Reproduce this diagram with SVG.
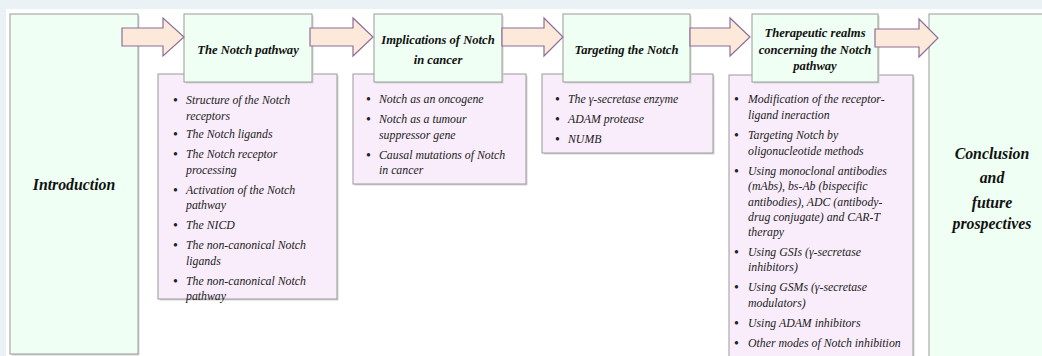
<svg xmlns="http://www.w3.org/2000/svg" width="1042" height="356" viewBox="0 0 1042 356">
<defs>
<style>
.bg{fill:#eaf2f5}
.panel{fill:#ffffff}
.mint{fill:#effff3;stroke:#9a9a9a;stroke-width:1}
.lav{fill:#f9edfb;stroke:#9a9a9a;stroke-width:1}
.shadow{fill:#d4d4d4}
.arrow{fill:#fde9d9;stroke:#8c6e9c;stroke-width:1.2;stroke-linejoin:miter}
.title{font-style:italic;font-weight:bold;font-size:12.6px;fill:#111;text-anchor:middle}
.big{font-style:italic;font-weight:bold;font-size:15.8px;fill:#111;text-anchor:middle}
.item{font-style:italic;font-size:11.8px;fill:#222}
.bul{font-size:14px;fill:#222}
</style>
</defs>
<rect class="bg" x="0" y="0" width="1042" height="356"/>
<rect class="panel" x="6" y="9" width="1036" height="347"/>

<g id="introduction" font-family="Liberation Serif">
<rect class="shadow" x="11.5" y="15.5" width="128" height="340"/>
<rect class="mint" x="10" y="14" width="128" height="340"/>
<text class="big" x="74" y="190">Introduction</text>
</g>

<g id="notch-pathway-list" font-family="Liberation Serif">
<rect class="shadow" x="159.5" y="75.5" width="179" height="225"/>
<rect class="lav" x="158" y="74" width="179" height="225"/>
<text class="bul" x="173" y="105">•</text><text class="item" x="186" y="104">Structure of the Notch</text>
<text class="item" x="186" y="120">receptors</text>
<text class="bul" x="173" y="139">•</text><text class="item" x="186" y="138">The Notch ligands</text>
<text class="bul" x="173" y="159">•</text><text class="item" x="186" y="158">The Notch receptor</text>
<text class="item" x="186" y="174">processing</text>
<text class="bul" x="173" y="195">•</text><text class="item" x="186" y="194">Activation of the Notch</text>
<text class="item" x="186" y="209">pathway</text>
<text class="bul" x="173" y="230">•</text><text class="item" x="186" y="229">The NICD</text>
<text class="bul" x="173" y="250">•</text><text class="item" x="186" y="249">The non-canonical Notch</text>
<text class="item" x="186" y="265">ligands</text>
<text class="bul" x="173" y="286">•</text><text class="item" x="186" y="285">The non-canonical Notch</text>
<text class="item" x="186" y="300">pathway</text>
</g>
<g id="notch-pathway" font-family="Liberation Serif">
<rect class="shadow" x="185.5" y="15.5" width="128" height="68"/>
<rect class="mint" x="184" y="14" width="128" height="68"/>
<text class="title" x="248" y="54">The Notch pathway</text>
</g>

<g id="implications-list" font-family="Liberation Serif">
<rect class="shadow" x="354.5" y="75.5" width="173" height="110"/>
<rect class="lav" x="353" y="74" width="173" height="110"/>
<text class="bul" x="366" y="104">•</text><text class="item" x="379" y="103">Notch as an oncogene</text>
<text class="bul" x="366" y="124">•</text><text class="item" x="379" y="123">Notch as a tumour</text>
<text class="item" x="379" y="139">suppressor gene</text>
<text class="bul" x="366" y="160">•</text><text class="item" x="379" y="159">Causal mutations of Notch</text>
<text class="item" x="379" y="174">in cancer</text>
</g>
<g id="implications" font-family="Liberation Serif">
<rect class="shadow" x="375.5" y="15.5" width="128" height="68"/>
<rect class="mint" x="374" y="14" width="128" height="68"/>
<text class="title" x="438" y="44">Implications of Notch</text>
<text class="title" x="438" y="64">in cancer</text>
</g>

<g id="targeting-list" font-family="Liberation Serif">
<rect class="shadow" x="543.5" y="75.5" width="171" height="79"/>
<rect class="lav" x="542" y="74" width="171" height="79"/>
<text class="bul" x="555" y="104">•</text><text class="item" x="568" y="103">The γ-secretase enzyme</text>
<text class="bul" x="555" y="124">•</text><text class="item" x="568" y="123">ADAM protease</text>
<text class="bul" x="555" y="144">•</text><text class="item" x="568" y="143">NUMB</text>
</g>
<g id="targeting" font-family="Liberation Serif">
<rect class="shadow" x="564.5" y="15.5" width="127" height="68"/>
<rect class="mint" x="563" y="14" width="127" height="68"/>
<text class="title" x="626.5" y="54">Targeting the Notch</text>
</g>

<g id="therapeutic-list" font-family="Liberation Serif">
<rect class="shadow" x="730.5" y="76.5" width="184" height="290"/>
<rect class="lav" x="729" y="75" width="184" height="290"/>
<text class="bul" x="734" y="104">•</text><text class="item" x="748" y="103">Modification of the receptor-</text>
<text class="item" x="748" y="119">ligand ineraction</text>
<text class="bul" x="734" y="140">•</text><text class="item" x="748" y="139">Targeting Notch by</text>
<text class="item" x="748" y="155">oligonucleotide methods</text>
<text class="bul" x="734" y="176">•</text><text class="item" x="748" y="175">Using monoclonal antibodies</text>
<text class="item" x="748" y="190">(mAbs), bs-Ab (bispecific</text>
<text class="item" x="748" y="206">antibodies), ADC (antibody-</text>
<text class="item" x="748" y="221">drug conjugate) and CAR-T</text>
<text class="item" x="748" y="236">therapy</text>
<text class="bul" x="734" y="257">•</text><text class="item" x="748" y="256">Using GSIs (γ-secretase</text>
<text class="item" x="748" y="271">inhibitors)</text>
<text class="bul" x="734" y="292">•</text><text class="item" x="748" y="291">Using GSMs (γ-secretase</text>
<text class="item" x="748" y="307">modulators)</text>
<text class="bul" x="734" y="328">•</text><text class="item" x="748" y="327">Using ADAM inhibitors</text>
<text class="bul" x="734" y="348">•</text><text class="item" x="748" y="347">Other modes of Notch inhibition</text>
</g>
<g id="therapeutic" font-family="Liberation Serif">
<rect class="shadow" x="753.5" y="15.5" width="126" height="68"/>
<rect class="mint" x="752" y="14" width="126" height="68"/>
<text class="title" x="815" y="37">Therapeutic realms</text>
<text class="title" x="815" y="54">concerning the Notch</text>
<text class="title" x="815" y="70">pathway</text>
</g>

<g id="conclusion" font-family="Liberation Serif">
<rect class="shadow" x="930.5" y="15.5" width="120" height="350"/>
<rect class="mint" x="929" y="14" width="120" height="350"/>
<text class="big" x="992" y="159">Conclusion</text>
<text class="big" x="992" y="183">and</text>
<text class="big" x="992" y="208">future</text>
<text class="big" x="992" y="229">prospectives</text>
</g>

<g id="connectors">
<path class="arrow" d="M122,28 H163 V18 L184,37 L163,56 V46 H122 Z"/>
<path class="arrow" d="M310,28 H353 V18 L373,37 L353,56 V46 H310 Z"/>
<path class="arrow" d="M502,28 H544 V18 L563,37 L544,56 V46 H502 Z"/>
<path class="arrow" d="M690,28 H730 V18 L750,37 L730,56 V46 H690 Z"/>
<path class="arrow" d="M875,29 H919 V19 L938,38 L919,57 V47 H875 Z"/>
</g>
</svg>
